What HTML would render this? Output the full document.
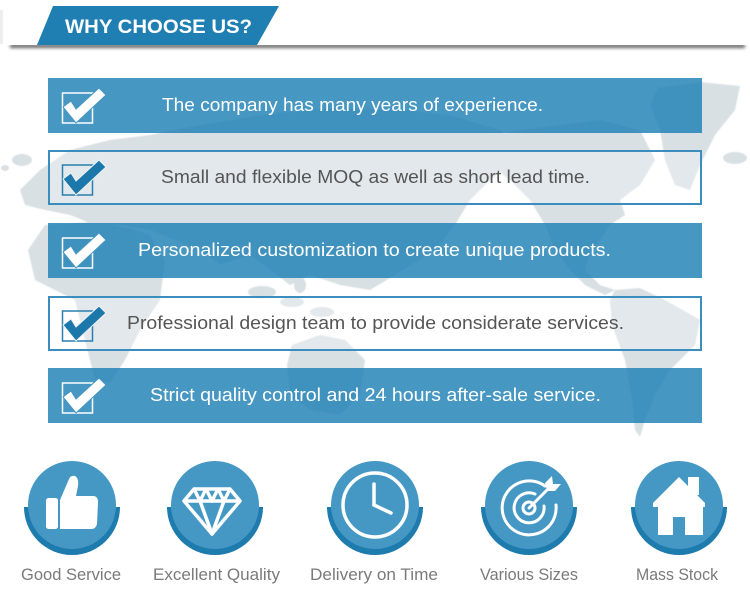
<!DOCTYPE html>
<html><head><meta charset="utf-8"><style>
html,body{margin:0;padding:0;background:#fff;}
svg{display:block;}
text{font-family:"Liberation Sans",Arial,sans-serif;}
</style></head><body>
<svg width="750" height="600" viewBox="0 0 750 600" xmlns="http://www.w3.org/2000/svg">
<defs>
<filter id="bl" x="-5%" y="-200%" width="110%" height="500%"><feGaussianBlur stdDeviation="1.6"/></filter>
<filter id="mb"><feGaussianBlur stdDeviation="0.6"/></filter>
</defs>
<rect width="750" height="600" fill="#fff"/>
<!-- world map -->
<g fill="#d9e0e4" filter="url(#mb)">
<path d="M20,190 L40,170 L70,150 L110,140 L150,135 L200,125 L260,115 L330,108 L400,110 L450,115 L500,130 L520,145 L510,165 L490,180 L470,200 L455,225 L440,245 L420,260 L395,275 L370,290 L340,285 L310,275 L290,285 L270,270 L250,255 L220,265 L200,250 L175,240 L150,230 L120,225 L95,225 L70,215 L45,210 L25,205 Z"/>
<path d="M45,225 L90,222 L130,228 L150,235 L165,260 L160,300 L140,330 L125,360 L110,383 L95,380 L85,340 L75,300 L55,290 L35,280 L28,250 Z"/>
<path d="M292,345 L320,335 L345,340 L365,360 L360,395 L340,415 L310,410 L290,395 L287,365 Z"/>
<ellipse cx="262" cy="292" rx="14" ry="6"/>
<ellipse cx="292" cy="302" rx="12" ry="5"/>
<ellipse cx="322" cy="312" rx="12" ry="5"/>
<ellipse cx="300" cy="285" rx="6" ry="8"/>
<path d="M470,140 L520,130 L560,125 L600,120 L640,130 L655,160 L640,185 L620,200 L625,215 L610,225 L600,240 L590,255 L585,270 L600,285 L615,290 L605,295 L585,285 L570,270 L555,250 L545,225 L530,200 L510,180 L490,165 L465,160 Z"/>
<path d="M658,88 L700,82 L740,86 L735,110 L715,135 L700,165 L690,190 L675,185 L665,160 L660,130 L650,105 Z"/>
<ellipse cx="735" cy="158" rx="12" ry="6"/>
<path d="M615,290 L640,288 L665,300 L700,320 L695,345 L670,370 L655,395 L645,420 L640,437 L635,430 L632,400 L625,360 L612,325 L610,300 Z"/>
<ellipse cx="22" cy="160" rx="10" ry="6"/>
<ellipse cx="5" cy="168" rx="4" ry="3"/>
</g>
<!-- header -->
<rect x="10" y="44" width="735" height="4" fill="#666" filter="url(#bl)"/>
<rect x="0" y="0" width="750" height="45" fill="#fff"/>
<rect x="0" y="10" width="3" height="34" fill="#eee"/>
<polygon points="53,6 279,6 257,45 37,45" fill="#1f7fb3"/>
<text x="65" y="33" font-size="19" font-weight="bold" fill="#fff" textLength="187" lengthAdjust="spacingAndGlyphs">WHY CHOOSE US?</text>

<!-- rows -->
<g>
<rect x="48" y="78" width="654" height="55" fill="rgb(30,128,182)" fill-opacity="0.82"/>
<rect x="49" y="151" width="652" height="53" fill="#fff" fill-opacity="0.25" stroke="#3a8dbd" stroke-width="2"/>
<rect x="48" y="223" width="654" height="55" fill="rgb(30,128,182)" fill-opacity="0.82"/>
<rect x="49" y="297" width="652" height="53" fill="#fff" fill-opacity="0.25" stroke="#3a8dbd" stroke-width="2"/>
<rect x="48" y="368" width="654" height="55" fill="rgb(30,128,182)" fill-opacity="0.82"/>
</g>

<!-- checkboxes -->
<g>
<g transform="translate(0,78)">
<rect x="62.5" y="15" width="30" height="30" fill="none" stroke="#fff" stroke-width="1.5"/>
<polygon points="63,29 71,23 76,31 99,10 106,17 76,45" fill="#fff" stroke="rgb(70,151,195)" stroke-width="1"/>
</g>
<g transform="translate(0,150)">
<rect x="62.5" y="15" width="30" height="30" fill="none" stroke="#2a7fb0" stroke-width="1.5"/>
<polygon points="63,29 71,23 76,31 99,10 106,17 76,45" fill="#1c77ab" stroke="#eef3f5" stroke-width="1"/>
</g>
<g transform="translate(0,223)">
<rect x="62.5" y="15" width="30" height="30" fill="none" stroke="#fff" stroke-width="1.5"/>
<polygon points="63,29 71,23 76,31 99,10 106,17 76,45" fill="#fff" stroke="rgb(70,151,195)" stroke-width="1"/>
</g>
<g transform="translate(0,296)">
<rect x="62.5" y="15" width="30" height="30" fill="none" stroke="#2a7fb0" stroke-width="1.5"/>
<polygon points="63,29 71,23 76,31 99,10 106,17 76,45" fill="#1c77ab" stroke="#eef3f5" stroke-width="1"/>
</g>
<g transform="translate(0,368)">
<rect x="62.5" y="15" width="30" height="30" fill="none" stroke="#fff" stroke-width="1.5"/>
<polygon points="63,29 71,23 76,31 99,10 106,17 76,45" fill="#fff" stroke="rgb(70,151,195)" stroke-width="1"/>
</g>
</g>

<!-- row texts -->
<g font-size="18">
<text x="162" y="111" fill="#fff" textLength="381" lengthAdjust="spacingAndGlyphs">The company has many years of experience.</text>
<text x="161" y="183" fill="#555" textLength="429" lengthAdjust="spacingAndGlyphs">Small and flexible MOQ as well as short lead time.</text>
<text x="138" y="256" fill="#fff" textLength="473" lengthAdjust="spacingAndGlyphs">Personalized customization to create unique products.</text>
<text x="127" y="329" fill="#555" textLength="497" lengthAdjust="spacingAndGlyphs">Professional design team to provide considerate services.</text>
<text x="150" y="401" fill="#fff" textLength="451" lengthAdjust="spacingAndGlyphs">Strict quality control and 24 hours after-sale service.</text>
</g>

<!-- icons -->
<g>
<path d="M24,507 A48,48 0 0 0 120,507 Z" fill="#1e7bae"/>
<circle cx="72" cy="505" r="44" fill="#4598c3"/>
<path d="M167,507 A48,48 0 0 0 263,507 Z" fill="#1e7bae"/>
<circle cx="215" cy="505" r="44" fill="#4598c3"/>
<path d="M327,507 A48,48 0 0 0 423,507 Z" fill="#1e7bae"/>
<circle cx="375" cy="505" r="44" fill="#4598c3"/>
<path d="M481,507 A48,48 0 0 0 577,507 Z" fill="#1e7bae"/>
<circle cx="529" cy="505" r="44" fill="#4598c3"/>
<path d="M631,507 A48,48 0 0 0 727,507 Z" fill="#1e7bae"/>
<circle cx="679" cy="505" r="44" fill="#4598c3"/>
</g>
<!-- thumbs up -->
<g fill="#fff">
<rect x="46" y="498" width="12" height="31" rx="2.5"/>
<path d="M60,500 L69,479 Q71,475 75,476 Q79,478 78,486 L76,496 L93,496 Q98,496 98,502 L97,524 Q96,529 91,529 L60,529 Z"/>
</g>
<!-- diamond -->
<g fill="none" stroke="#fff" stroke-width="3.5" stroke-linejoin="round">
<polygon points="194,489 230,489 240,501 212,534 184,501"/>
<line x1="184" y1="501" x2="240" y2="501"/>
<path d="M194,489 L200,501 L206,489 M206,489 L212,501 L218,489 M218,489 L224,501 L230,489"/>
<path d="M200,501 L212,534 L224,501"/>
</g>
<!-- clock -->
<g fill="none" stroke="#fff" stroke-width="3.5" stroke-linecap="round">
<circle cx="375" cy="505" r="32"/>
<line x1="374" y1="505" x2="374" y2="484"/>
<line x1="374" y1="505" x2="391" y2="513"/>
</g>
<!-- target -->
<g fill="none" stroke="#fff" stroke-width="3" stroke-linecap="round">
<path d="M545,486 A27,27 0 1 0 556,505"/>
<path d="M535,494 A15,15 0 1 0 544,506"/>
<circle cx="529" cy="508" r="6"/>
<line x1="529" y1="508" x2="552" y2="485"/>
</g>
<polygon points="545,483 552,476 553,484 561,484 555,491 547,491" fill="#fff"/>
<!-- house -->
<g fill="#fff">
<rect x="688" y="477" width="11" height="18"/>
<polygon points="679,477 705,503 705,507 653,507 653,503"/>
<path d="M658,503 L703,503 L703,535 L685,535 L685,517 L673,517 L673,535 L658,535 Z"/>
</g>

<!-- labels -->
<g font-size="17" fill="#7a7a7a">
<text x="21" y="580" textLength="100" lengthAdjust="spacingAndGlyphs">Good Service</text>
<text x="153" y="580" textLength="127" lengthAdjust="spacingAndGlyphs">Excellent Quality</text>
<text x="310" y="580" textLength="128" lengthAdjust="spacingAndGlyphs">Delivery on Time</text>
<text x="480" y="580" textLength="98" lengthAdjust="spacingAndGlyphs">Various Sizes</text>
<text x="636" y="580" textLength="82" lengthAdjust="spacingAndGlyphs">Mass Stock</text>
</g>
</svg>
</body></html>
